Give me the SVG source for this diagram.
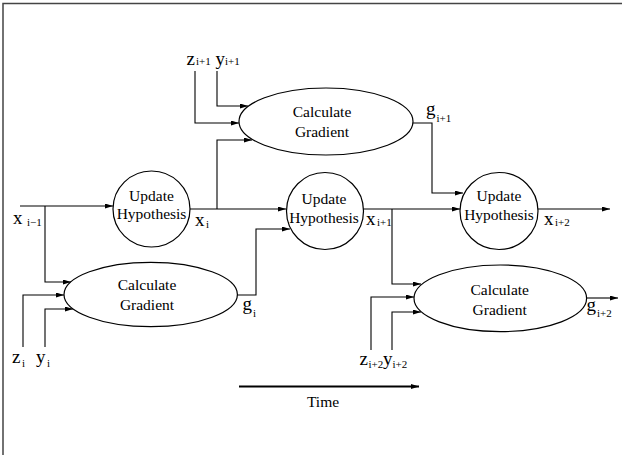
<svg xmlns="http://www.w3.org/2000/svg" width="622" height="455" viewBox="0 0 622 455">
<style>
.ln{fill:none;stroke:#000;stroke-width:1.1}
.ar{marker-end:url(#ah)}
.nd{fill:#fff;stroke:#000;stroke-width:1.2}
.t{font-family:"Liberation Serif","Times New Roman",serif;font-size:15.5px;fill:#000;text-anchor:middle}
.v{font-family:"Liberation Serif","Times New Roman",serif;font-size:19px;fill:#000}
.s{font-family:"Liberation Serif","Times New Roman",serif;font-size:11px;fill:#000}
</style>
<defs>
<marker id="ah" markerUnits="userSpaceOnUse" markerWidth="9" markerHeight="6" refX="8" refY="2.5" orient="auto">
<path d="M0,0 L8,2.5 L0,5 z" fill="#000"/>
</marker>
</defs>
<rect width="622" height="455" fill="#fff"/>
<path d="M3,455 V3.5 H622" fill="none" stroke="#444" stroke-width="1.5"/>
<g id="connectors">
<path class="ln ar" d="M20,206 H113"/>
<path class="ln ar" d="M45,206 V282 H71"/>
<path class="ln ar" d="M23,347 V295 H64"/>
<path class="ln ar" d="M45,347 V309 H73"/>
<path class="ln ar" d="M190,209 H286"/>
<path class="ln ar" d="M217,209 V140 H252"/>
<path class="ln ar" d="M195,71 V123 H239"/>
<path class="ln ar" d="M217,71 V106 H248"/>
<path class="ln ar" d="M412,123 H432 V193 H463"/>
<path class="ln ar" d="M237,295 H256 V229 H290"/>
<path class="ln ar" d="M363,209 H460"/>
<path class="ln ar" d="M392,209 V284 H421"/>
<path class="ln ar" d="M371,350 V297 H414"/>
<path class="ln ar" d="M392,350 V312 H421"/>
<path class="ln ar" d="M587,298 H618"/>
<path class="ln ar" d="M538,209 H610"/>
<path d="M239,386.5 H419" fill="none" stroke="#000" stroke-width="2" marker-end="url(#ah)"/>
</g>
<g id="uh1">
<ellipse class="nd" cx="151.5" cy="209" rx="38.5" ry="38"/>
<text class="t" x="151.5" y="201">Update</text>
<text class="t" x="151.5" y="219">Hypothesis</text>
</g>
<g id="uh2">
<ellipse class="nd" cx="325" cy="211" rx="38.5" ry="38.5"/>
<text class="t" x="324" y="204">Update</text>
<text class="t" x="324" y="222.5">Hypothesis</text>
</g>
<g id="uh3">
<ellipse class="nd" cx="499" cy="211" rx="39" ry="38.5"/>
<text class="t" x="499" y="201">Update</text>
<text class="t" x="499" y="219.5">Hypothesis</text>
</g>
<g id="cg1">
<ellipse class="nd" cx="326" cy="121.5" rx="87" ry="33.5"/>
<text class="t" x="322" y="117">Calculate</text>
<text class="t" x="322" y="137">Gradient</text>
</g>
<g id="cg0">
<ellipse class="nd" cx="150.7" cy="294.5" rx="86.7" ry="32.2"/>
<text class="t" x="147" y="290">Calculate</text>
<text class="t" x="147" y="309.5">Gradient</text>
</g>
<g id="cg2">
<ellipse class="nd" cx="500.3" cy="298.3" rx="86.3" ry="33.3"/>
<text class="t" x="499.7" y="295">Calculate</text>
<text class="t" x="499.7" y="315">Gradient</text>
</g>
<g id="labels">
<text class="v" x="13" y="224">x</text><text class="s" x="27" y="226">i−1</text>
<text class="v" x="195" y="226">x</text><text class="s" x="206" y="228">i</text>
<text class="v" x="366" y="225">x</text><text class="s" x="377" y="226">i+1</text>
<text class="v" x="544" y="225">x</text><text class="s" x="555" y="226">i+2</text>
<text class="v" x="242.5" y="309.5">g</text><text class="s" x="253" y="317">i</text>
<text class="v" x="426" y="115">g</text><text class="s" x="436.5" y="122">i+1</text>
<text class="v" x="586.5" y="311">g</text><text class="s" x="597" y="317">i+2</text>
<text class="v" x="12" y="363">z</text><text class="s" x="22" y="367">i</text>
<text class="v" x="36" y="363">y</text><text class="s" x="47" y="367">i</text>
<text class="v" x="186.5" y="65">z</text><text class="s" x="196" y="65">i+1</text>
<text class="v" x="215.5" y="65">y</text><text class="s" x="225" y="65">i+1</text>
<text class="v" x="359.5" y="365">z</text><text class="s" x="368.5" y="368">i+2</text>
<text class="v" x="383" y="365">y</text><text class="s" x="392.5" y="368">i+2</text>
<text class="t" x="323" y="407">Time</text>
</g>
</svg>
